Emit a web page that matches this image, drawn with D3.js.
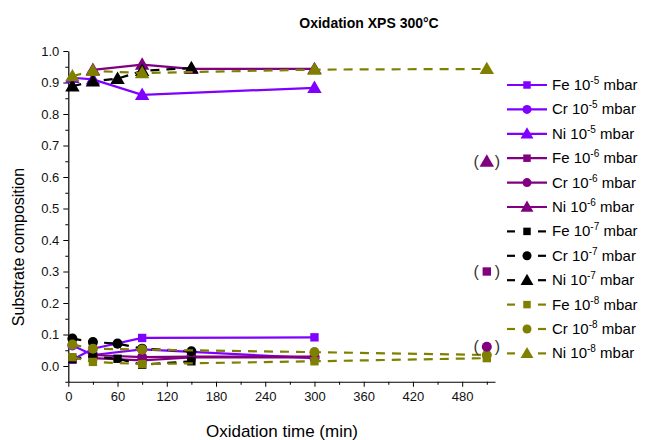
<!DOCTYPE html>
<html><head><meta charset="utf-8">
<script src="https://cdn.jsdelivr.net/npm/d3@7"></script>
<style>body{margin:0;background:#fff}svg{display:block}text{font-family:Arial,"Liberation Sans",sans-serif}</style>
</head><body><svg id="c" width="651" height="440"></svg>
<script>
// ---- data ----
const times5 = [5, 30, 90, 300];
const fe5 = [0.020, 0.055, 0.089, 0.091];
const cr5 = [0.065, 0.035, 0.053, 0.025];
const ni5 = [0.915, 0.910, 0.861, 0.883];

const times6 = [30, 90, 150, 300];
const fe6 = [0.025, 0.018, 0.027, 0.027];
const cr6 = [0.035, 0.028, 0.030, 0.030];
const ni6 = [0.940, 0.957, 0.943, 0.943];

const times7 = [5, 30, 60, 90, 150];
const fe7 = [0.022, 0.030, 0.023, 0.004, 0.015];
const cr7 = [0.087, 0.076, 0.071, 0.055, 0.047];
const ni7 = [0.888, 0.904, 0.912, 0.937, 0.946];

const times8 = [5, 30, 90, 300, 510];
const fe8 = [0.028, 0.013, 0.006, 0.015, 0.025];
const cr8 = [0.068, 0.055, 0.052, 0.044, 0.035];
const ni8 = [0.920, 0.937, 0.930, 0.941, 0.943];

// isolated bracketed points (10^-6 series)
const bracketTime = [510, 510, 510];
const bracketValue = [0.300, 0.061, 0.649];
const bracketShape = ["square", "circle", "triangle"];

const elements = ["Fe", "Cr", "Ni"];
const shapes = ["square", "circle", "triangle"];
const pressures = ["-5", "-6", "-7", "-8"];
const colors = ["#8000FF", "#800080", "#000000", "#808000"];
const dashed = [false, false, true, true];

const xTicks = [0, 60, 120, 180, 240, 300, 360, 420, 480];
const yTicks = [0.0, 0.1, 0.2, 0.3, 0.4, 0.5, 0.6, 0.7, 0.8, 0.9, 1.0];

const groups = [
  {t: times5, v: [fe5, cr5, ni5]},
  {t: times6, v: [fe6, cr6, ni6]},
  {t: times7, v: [fe7, cr7, ni7]},
  {t: times8, v: [fe8, cr8, ni8]}
];

// ---- chart ----
const svg = d3.select("#c");
const x = d3.scaleLinear().domain([0, 520]).range([68.3, 495]);
const y = d3.scaleLinear().domain([-0.05, 1.0]).range([381.75, 51]);

const xAxis = d3.axisBottom(x).tickValues(xTicks).tickFormat(d3.format("d")).tickSize(5).tickSizeOuter(0).tickPadding(5);
const xMinor = d3.axisBottom(x).tickValues(d3.range(30, 520, 60)).tickFormat("").tickSize(3);
svg.append("g").attr("transform", `translate(0,${y(-0.05)})`).call(xAxis);
svg.append("g").attr("transform", `translate(0,${y(-0.05)})`).call(xMinor).select(".domain").remove();

const yAxis = d3.axisLeft(y).tickValues(yTicks).tickFormat(d3.format(".1f")).tickSize(5).tickSizeOuter(0).tickPadding(4);
const yMinor = d3.axisLeft(y).tickValues(d3.range(-0.05, 1.0, 0.1)).tickFormat("").tickSize(3);
svg.append("g").attr("transform", `translate(${x(0)},0)`).call(yAxis);
svg.append("g").attr("transform", `translate(${x(0)},0)`).call(yMinor).select(".domain").remove();

svg.selectAll(".domain").attr("stroke", "#000").attr("stroke-width", 1.2);
svg.selectAll(".tick line").attr("stroke", "#000").attr("stroke-width", 1);
svg.selectAll(".tick text").attr("font-size", 13).attr("fill", "#111").style("font-family", "Arial, 'Liberation Sans', sans-serif");

svg.append("text").attr("x", 369).attr("y", 28).attr("text-anchor", "middle")
  .attr("font-size", 14).attr("font-weight", "bold").text("Oxidation XPS 300°C");
svg.append("text").attr("x", 282).attr("y", 437).attr("text-anchor", "middle")
  .attr("font-size", 17).text("Oxidation time (min)");
svg.append("text").attr("transform", "translate(24,247) rotate(-90)").attr("text-anchor", "middle")
  .attr("font-size", 16).text("Substrate composition");

const symbolType = {square: d3.symbolSquare, circle: d3.symbolCircle, triangle: d3.symbolTriangle};
const symbolSize = {square: 70, circle: 80, triangle: 90};
function marker(g, shape, cx, cy, color, scale) {
  const s = scale || 1;
  g.append("path").attr("d", d3.symbol().type(symbolType[shape]).size(symbolSize[shape] * s)())
    .attr("transform", `translate(${cx},${shape === "triangle" ? cy + 1 : cy})`)
    .attr("fill", color);
}

const line = d3.line().x(d => x(d[0])).y(d => y(d[1]));
const plot = svg.append("g");
groups.forEach((gr, gi) => {
  gr.v.forEach((vals, ei) => {
    const pts = gr.t.map((t, i) => [t, vals[i]]);
    plot.append("path").attr("d", line(pts)).attr("fill", "none")
      .attr("stroke", colors[gi]).attr("stroke-width", 2.2)
      .attr("stroke-dasharray", dashed[gi] ? "9,7" : null);
    pts.forEach(p => marker(plot, shapes[ei], x(p[0]), y(p[1]), colors[gi]));
  });
});

bracketTime.forEach((t, i) => {
  const cx = x(t), cy = y(bracketValue[i]);
  marker(plot, bracketShape[i], cx, cy, colors[1]);
  plot.append("text").attr("x", cx - 8).attr("y", cy + 5).attr("text-anchor", "end").attr("font-size", 16).attr("fill", "#333").text("(");
  plot.append("text").attr("x", cx + 8).attr("y", cy + 5).attr("text-anchor", "start").attr("font-size", 16).attr("fill", "#333").text(")");
});

const leg = svg.append("g");
let row = 0;
pressures.forEach((p, gi) => {
  elements.forEach((el, ei) => {
    const ly = 85 + row * 24.4;
    const c = colors[gi];
    if (dashed[gi]) {
      leg.append("line").attr("x1", 507).attr("x2", 515).attr("y1", ly).attr("y2", ly).attr("stroke", c).attr("stroke-width", 2.2);
      leg.append("line").attr("x1", 538).attr("x2", 546).attr("y1", ly).attr("y2", ly).attr("stroke", c).attr("stroke-width", 2.2);
    } else {
      leg.append("line").attr("x1", 507).attr("x2", 547).attr("y1", ly).attr("y2", ly).attr("stroke", c).attr("stroke-width", 2.2);
    }
    marker(leg, shapes[ei], 527, ly, c, 0.8);
    const t = leg.append("text").attr("x", 552).attr("y", ly + 5).attr("font-size", 15).attr("fill", "#000");
    t.append("tspan").text(el + " 10");
    t.append("tspan").attr("dy", -6).attr("font-size", 10).text(p);
    t.append("tspan").attr("dy", 6).text(" mbar");
    row++;
  });
});
</script>
</body></html>
